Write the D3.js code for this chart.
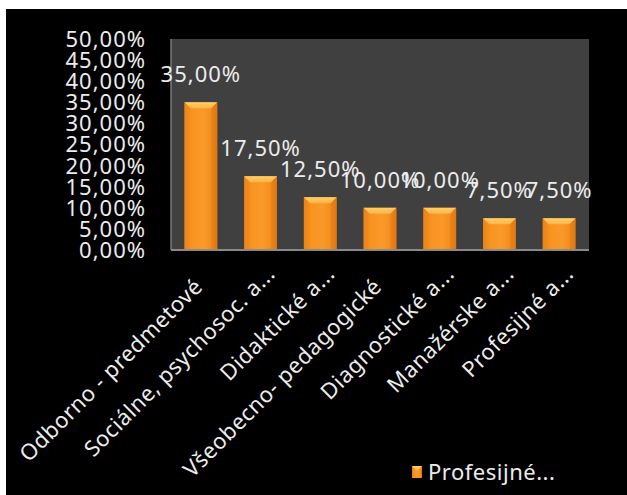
<!DOCTYPE html>
<html>
<head>
<meta charset="utf-8">
<script src="https://cdn.jsdelivr.net/npm/d3@7"></script>
<style>
  body { margin: 0; background: #fff; }
  text { font-family: "Noto Sans", "Open Sans", sans-serif; }
</style>
</head>
<body>
<div id="chart"></div>
<script>

var categories = ["Odborno - predmetové", "Sociálne, psychosoc. a...", "Didaktické a...",
                  "Všeobecno- pedagogické", "Diagnostické a...", "Manažérske a...", "Profesijné a..."];
var values = [0.35, 0.175, 0.125, 0.10, 0.10, 0.075, 0.075];
var yTicks = [0, 0.05, 0.10, 0.15, 0.20, 0.25, 0.30, 0.35, 0.40, 0.45, 0.50];
var seriesName = "Profesijné...";

var width = 627, height = 495;
var plot = {left: 171, right: 589, top: 39, bottom: 250};

var sk = d3.formatLocale({decimal: ",", thousands: " ", grouping: [3], currency: ["", " €"]});
var pct = sk.format(".2%");

var svg = d3.select("#chart").append("svg")
    .attr("width", width)
    .attr("height", height);

// black slide background
svg.append("rect")
    .attr("x", 6).attr("y", 9)
    .attr("width", width - 6).attr("height", height - 9)
    .style("fill", "#000");

var defs = svg.append("defs");
var bodyGrad = defs.append("linearGradient").attr("id", "barBody")
    .attr("x1", 0).attr("x2", 1).attr("y1", 0).attr("y2", 0);
bodyGrad.append("stop").attr("offset", "0%").style("stop-color", "#e07a14");
bodyGrad.append("stop").attr("offset", "18%").style("stop-color", "#f8921f");
bodyGrad.append("stop").attr("offset", "55%").style("stop-color", "#fa9a2a");
bodyGrad.append("stop").attr("offset", "85%").style("stop-color", "#f48d1d");
bodyGrad.append("stop").attr("offset", "100%").style("stop-color", "#d8720f");

var topGrad = defs.append("linearGradient").attr("id", "barTop")
    .attr("x1", 0).attr("x2", 0).attr("y1", 0).attr("y2", 1);
topGrad.append("stop").attr("offset", "0%").style("stop-color", "#ffcf6a");
topGrad.append("stop").attr("offset", "100%").style("stop-color", "#fdb346");

var x = d3.scaleBand()
    .domain(categories)
    .range([plot.left, plot.right])
    .paddingInner(0.45)
    .paddingOuter(0.225);

var y = d3.scaleLinear()
    .domain([0, 0.5])
    .range([plot.bottom, plot.top]);

// plot area
svg.append("rect")
    .attr("x", plot.left).attr("y", plot.top)
    .attr("width", plot.right - plot.left)
    .attr("height", plot.bottom - plot.top)
    .style("fill", "#404040");

svg.append("line")
    .attr("x1", plot.left).attr("x2", plot.left)
    .attr("y1", plot.top).attr("y2", plot.bottom)
    .style("stroke", "#7a7a7a").style("stroke-width", 1.5);

// y tick labels
svg.selectAll("text.ytick")
    .data(yTicks)
    .enter()
    .append("text")
    .attr("class", "ytick")
    .attr("x", 146)
    .attr("y", function(d){ return y(d); })
    .attr("dy", "0.36em")
    .attr("text-anchor", "end")
    .attr("font-size", "22px")
    .style("letter-spacing", "1px")
    .style("fill", "#ececec")
    .text(function(d){ return pct(d); });

// bars
var bars = svg.selectAll("g.bar")
    .data(values)
    .enter()
    .append("g")
    .attr("class", "bar");

bars.append("rect")
    .attr("x", function(d,i){ return x(categories[i]); })
    .attr("y", function(d){ return y(d); })
    .attr("width", x.bandwidth())
    .attr("height", function(d){ return y(0) - y(d); })
    .style("fill", "url(#barBody)");

bars.append("polygon")
    .attr("points", function(d,i){
      var x0 = x(categories[i]), w = x.bandwidth(), t = y(d), b = 6;
      return [[x0, t], [x0 + w, t], [x0 + w - b, t + b], [x0 + b, t + b]].join(" ");
    })
    .style("fill", "url(#barTop)");

// left / right bevel edges
bars.append("polygon")
    .attr("points", function(d,i){
      var x0 = x(categories[i]), t = y(d), b = 6, h = y(0);
      return [[x0, t], [x0 + b, t + b], [x0 + b, h], [x0, h]].join(" ");
    })
    .style("fill", "#f08a1a").style("opacity", 0.6);

bars.append("polygon")
    .attr("points", function(d,i){
      var x1 = x(categories[i]) + x.bandwidth(), t = y(d), b = 6, h = y(0);
      return [[x1, t], [x1 - b, t + b], [x1 - b, h], [x1, h]].join(" ");
    })
    .style("fill", "#e27c12").style("opacity", 0.6);

// x axis line
svg.append("line")
    .attr("x1", plot.left).attr("x2", plot.right)
    .attr("y1", plot.bottom).attr("y2", plot.bottom)
    .style("stroke", "#8a8a8a").style("stroke-width", 2);

// data labels
svg.selectAll("text.dlabel")
    .data(values)
    .enter()
    .append("text")
    .attr("class", "dlabel")
    .attr("x", function(d,i){ return x(categories[i]) + x.bandwidth()/2; })
    .attr("y", function(d){ return y(d) - 20; })
    .attr("text-anchor", "middle")
    .attr("font-size", "22px")
    .style("letter-spacing", "1px")
    .style("fill", "#ececec")
    .text(function(d){ return pct(d); });

// category labels, rotated
svg.selectAll("text.xlabel")
    .data(categories)
    .enter()
    .append("text")
    .attr("class", "xlabel")
    .attr("transform", function(d){
      return "translate(" + (x(d) + x.bandwidth()/2 + 3) + ",288) rotate(-45)";
    })
    .attr("dx", function(d){ return /\.\.\.$/.test(d) ? 18 : 0; })
    .attr("text-anchor", "end")
    .attr("font-size", "22px")
    .style("letter-spacing", "0.5px")
    .style("fill", "#ececec")
    .text(function(d){ return d; });

// legend
var legend = svg.append("g");
legend.append("rect")
    .attr("x", 412).attr("y", 466)
    .attr("width", 10).attr("height", 12)
    .style("fill", "url(#barBody)");
legend.append("polygon")
    .attr("points", "412,466 422,466 417,471")
    .style("fill", "url(#barTop)");
legend.append("text")
    .attr("x", 428).attr("y", 480)
    .attr("font-size", "22px")
    .style("letter-spacing", "0.5px")
    .style("fill", "#ececec")
    .text(seriesName);

</script>
</body>
</html>
